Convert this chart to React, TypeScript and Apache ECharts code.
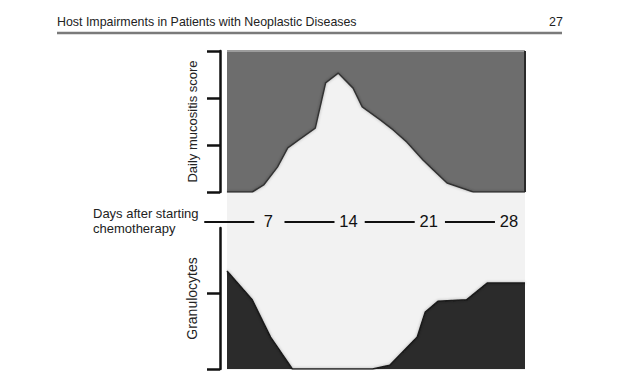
import React, { useEffect, useRef } from "react";
import * as echarts from "echarts";

// ---- data ----
const mucositisDays = [3.4, 5.6, 6.6, 7.8, 8.7, 9.6, 11.1, 12.0, 13.1, 14.4, 15.2, 16.8, 17.9, 19.1, 20.5, 21.4, 22.6, 24.9, 29.4];
const mucositisScore = [0, 0, 0.15, 0.53, 0.94, 1.1, 1.36, 2.32, 2.53, 2.21, 1.81, 1.53, 1.32, 1.06, 0.68, 0.47, 0.19, 0, 0];
const granulocyteDays = [3.4, 5.6, 7.2, 9.1, 16.1, 17.6, 20.0, 20.7, 21.8, 24.3, 26.1, 29.4];
const granulocyteLevel = [1.29, 0.91, 0.42, 0, 0, 0.05, 0.42, 0.75, 0.89, 0.91, 1.13, 1.13];
const dayTicks = [7, 14, 21, 28];
const mucositisTicks = [0, 1, 2, 3];
const granulocyteTicks = [0, 1];

const headerTitle = "Host Impairments in Patients with Neoplastic Diseases";
const pageNumber = "27";
const daysLabel = "Days after starting\nchemotherapy";

// ---- layout ----
const W = 621;
const H = 389;
const GRID_LEFT = 227;
const GRID_W = 298;
const TOP1 = 51;
const H1 = 141;
const TOP2 = 228;
const H2 = 141;
const DAY_MIN = 3.4;
const DAY_MAX = 29.4;
const LABEL_MARGIN = 19;
const DASH_MARGIN = 29;

export default function App() {
  const ref = useRef<HTMLDivElement>(null);
  useEffect(() => {
    if (!ref.current) return;
    const chart = echarts.init(ref.current, null, { renderer: "svg" });
    const pair = (xs: number[], ys: number[]) => xs.map((x, i) => [x, ys[i]]);
    const axisBlack = { color: "#111", width: 2.5 };
    const labelCommon = { customValues: dayTicks, interval: 0, hideOverlap: false };
    chart.setOption({
      animation: false,
      backgroundColor: "#fff",
      textStyle: { fontFamily: "Liberation Sans, Arial, sans-serif" },
      grid: [
        {
          left: GRID_LEFT, top: TOP1, width: GRID_W, height: H1,
          show: true, backgroundColor: "#6d6d6d", borderWidth: 0,
        },
        {
          left: GRID_LEFT, top: TOP2, width: GRID_W, height: H2,
          show: false,
        },
      ],
      xAxis: [
        {
          // day numbers
          type: "value", gridIndex: 0, min: DAY_MIN, max: DAY_MAX, position: "bottom",
          axisLine: { show: false }, axisTick: { show: false }, splitLine: { show: false },
          axisLabel: {
            ...labelCommon,
            margin: LABEL_MARGIN,
            fontSize: 16.5, color: "#111", lineHeight: 20,
            fontFamily: "Liberation Sans, Arial, sans-serif",
            formatter: (v: number) => String(v),
          },
        },
        {
          type: "value", gridIndex: 1, min: DAY_MIN, max: DAY_MAX, show: false,
        },
        {
          // dashes leading to each day number
          type: "value", gridIndex: 0, min: DAY_MIN, max: DAY_MAX, position: "bottom",
          axisLine: { show: false }, axisTick: { show: false }, splitLine: { show: false },
          axisLabel: {
            ...labelCommon,
            margin: DASH_MARGIN,
            align: "right",
            formatter: () => "{l|}{g|}",
            rich: {
              l: { width: 50, height: 2, lineHeight: 2, backgroundColor: "#111" },
              g: { width: 14, height: 2, lineHeight: 2 },
            },
          },
        },
      ],
      yAxis: [
        {
          type: "value", gridIndex: 0, min: 0, max: 3, interval: 1, offset: 7,
          name: "Daily mucositis score", nameLocation: "middle", nameRotate: 90, nameGap: 21,
          nameTextStyle: { fontSize: 13, color: "#222" },
          axisLine: { show: true, lineStyle: axisBlack },
          axisTick: { show: true, length: 13, lineStyle: axisBlack, customValues: mucositisTicks },
          axisLabel: { show: false }, splitLine: { show: false },
        },
        {
          type: "value", gridIndex: 1, min: 0, max: 1.855, offset: 7,
          name: "Granulocytes", nameLocation: "middle", nameRotate: 90, nameGap: 21,
          nameTextStyle: { fontSize: 14, color: "#222" },
          axisLine: { show: true, lineStyle: axisBlack },
          axisTick: { show: true, length: 13, lineStyle: axisBlack, customValues: granulocyteTicks },
          axisLabel: { show: false }, splitLine: { show: false },
        },
      ],
      graphic: [
        {
          type: "rect", z: -10, silent: true,
          shape: { x: GRID_LEFT, y: TOP1 - 1, width: GRID_W, height: TOP2 + H2 - TOP1 + 2 },
          style: { fill: "#f2f2f2" },
        },
        {
          type: "line", silent: true, z: 10,
          shape: { x1: GRID_LEFT, y1: TOP1, x2: GRID_LEFT + GRID_W, y2: TOP1 },
          style: { stroke: "#9c9c9c", lineWidth: 2 },
        },
        {
          type: "line", silent: true, z: 10,
          shape: { x1: GRID_LEFT + GRID_W, y1: TOP1, x2: GRID_LEFT + GRID_W, y2: TOP1 + H1 },
          style: { stroke: "#2a2a2a", lineWidth: 2 },
        },
        {
          type: "text", left: 57, top: 16,
          style: { text: headerTitle, fontSize: 12.4, fill: "#222", fontFamily: "Liberation Sans, Arial, sans-serif" },
        },
        {
          type: "text", left: 549, top: 16,
          style: { text: pageNumber, fontSize: 12.4, fill: "#222", fontFamily: "Liberation Sans, Arial, sans-serif" },
        },
        {
          type: "line",
          shape: { x1: 57, y1: 33, x2: 562, y2: 33 },
          style: { stroke: "#7a7a7a", lineWidth: 2.5 },
        },
        {
          type: "text", left: 93, top: 206,
          style: { text: daysLabel, fontSize: 13, lineHeight: 15, fill: "#222", fontFamily: "Liberation Sans, Arial, sans-serif" },
        },
      ],
      series: [
        {
          type: "line", xAxisIndex: 0, yAxisIndex: 0,
          data: pair(mucositisDays, mucositisScore),
          symbol: "none",
          lineStyle: { color: "#333", width: 1.5, shadowColor: "rgba(0,0,0,0.35)", shadowBlur: 3 },
          areaStyle: { color: "#f2f2f2", opacity: 1 },
        },
        {
          type: "line", xAxisIndex: 1, yAxisIndex: 1,
          data: pair(granulocyteDays, granulocyteLevel),
          symbol: "none",
          lineStyle: { color: "#1a1a1a", width: 1.5, shadowColor: "rgba(0,0,0,0.35)", shadowBlur: 3 },
          areaStyle: { color: "#2b2b2b", opacity: 1 },
        },
      ],
    });
    return () => chart.dispose();
  }, []);
  return <div ref={ref} style={{ position: "fixed", left: 0, top: 0, width: W, height: H }} />;
}
